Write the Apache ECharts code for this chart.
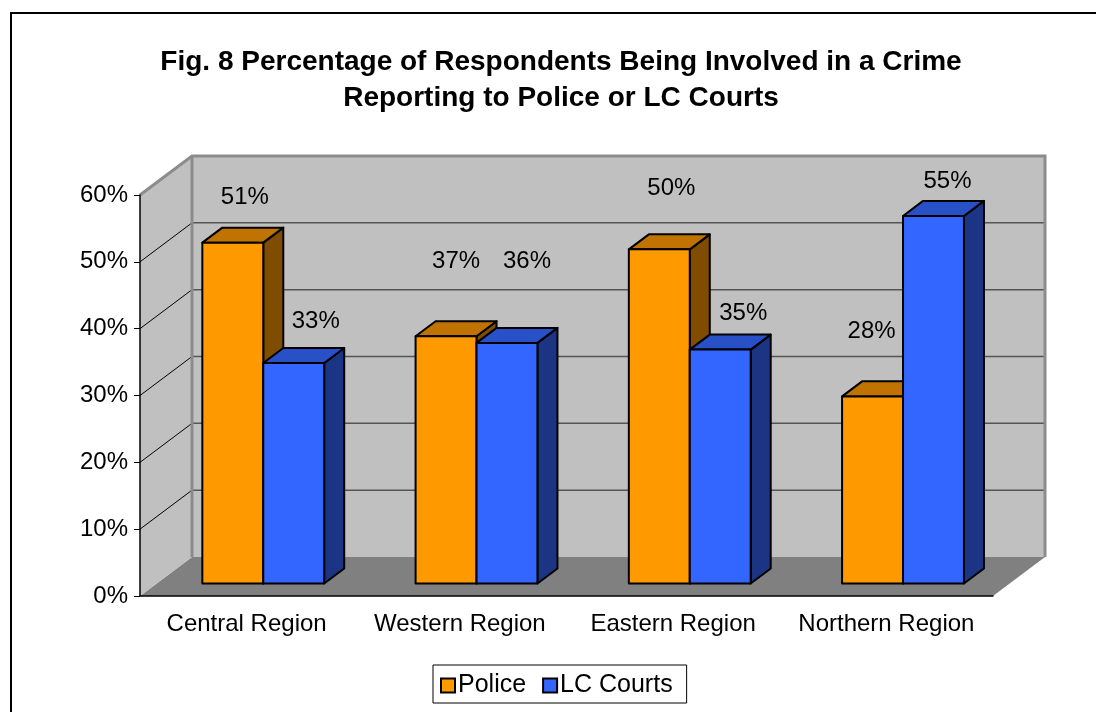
<!DOCTYPE html>
<html>
<head>
<meta charset="utf-8">
<script src="https://cdn.jsdelivr.net/npm/echarts@6/dist/echarts.min.js"></script>
<style>
  html, body { margin: 0; padding: 0; background: #fff; }
  #chart { width: 1096px; height: 712px; }
</style>
</head>
<body>
<div id="chart"></div>
<script>
// ---- data ----
const categories = ['Central Region', 'Western Region', 'Eastern Region', 'Northern Region'];
const seriesNames = ['Police', 'LC Courts'];
const policeValues = [51, 37, 50, 28];
const courtsValues = [33, 36, 35, 55];
const yTicks = [0, 10, 20, 30, 40, 50, 60];

// ---- layout / style ----
const FONT = '"Liberation Sans", Arial, sans-serif';
const DEPTH = [52, -39];        // pixel offset from the front plane to the back wall
const BAR_FRONT = 0.32;         // where the bar front faces sit within the depth
const BAR_DEPTH = 0.385;        // how deep each bar is
const GAP_RATIO = 1.5;          // gap between clusters, in bar widths
// label offsets from the top-front centre of each bar
const policeLabelShift = [[12, -45], [10, -75], [12, -61], [-1, -65]];
const courtsLabelShift = [[22, -42], [20, -82], [23, -36], [14, -35]];

const palette = {
  police: { front: '#FF9900', top: '#C07300', side: '#7F4C00' },
  courts: { front: '#3366FF', top: '#2851C8', side: '#1B3584' }
};

const yMin = yTicks[0], yMax = yTicks[yTicks.length - 1];

function wallsItem(params, api) {
  const band = api.size([1, 0])[0];
  const x0 = api.coord([0, 0])[0] - band / 2;
  const x1 = x0 + band * categories.length;
  const yAt = v => api.coord([0, v])[1];
  const y0 = yAt(yMin), yT = yAt(yMax);
  const dx = DEPTH[0], dy = DEPTH[1];
  const children = [];
  // floor
  children.push({ type: 'polygon', shape: { points: [[x0, y0], [x1, y0], [x1 + dx, y0 + dy], [x0 + dx, y0 + dy]] },
    style: { fill: '#808080' } });
  // back wall
  children.push({ type: 'rect', shape: { x: x0 + dx, y: yT + dy, width: x1 - x0, height: y0 - yT },
    style: { fill: '#C0C0C0' } });
  // side wall
  children.push({ type: 'polygon', shape: { points: [[x0, y0], [x0 + dx, y0 + dy], [x0 + dx, yT + dy], [x0, yT]] },
    style: { fill: '#C0C0C0' } });
  // grid lines
  yTicks.forEach(v => {
    if (v === yMin || v === yMax) return;
    const y = yAt(v);
    children.push({ type: 'line', shape: { x1: x0 + dx, y1: y + dy, x2: x1 + dx, y2: y + dy },
      style: { stroke: '#555555', lineWidth: 1.5 } });
    children.push({ type: 'line', shape: { x1: x0, y1: y, x2: x0 + dx, y2: y + dy },
      style: { stroke: '#000000', lineWidth: 1 } });
  });
  // wall edges
  children.push({ type: 'polyline', shape: { points: [[x0, yT], [x0 + dx, yT + dy], [x1 + dx, yT + dy], [x1 + dx, y0 + dy]] },
    style: { stroke: '#8C8C8C', lineWidth: 3, fill: null } });
  children.push({ type: 'line', shape: { x1: x0 + dx, y1: yT + dy, x2: x0 + dx, y2: y0 + dy },
    style: { stroke: '#8C8C8C', lineWidth: 3 } });
  return { type: 'group', children };
}

function makeBarItem(seriesIdx, colors, shifts) {
  return function (params, api) {
    const cat = api.value(0), val = api.value(1);
    const band = api.size([1, 0])[0];
    const bw = band / (2 + GAP_RATIO);
    const base = api.coord([cat, 0]);
    const top = api.coord([cat, val]);
    const ox = DEPTH[0] * BAR_FRONT, oy = DEPTH[1] * BAR_FRONT;
    const bx = DEPTH[0] * BAR_DEPTH, by = DEPTH[1] * BAR_DEPTH;
    const left = base[0] + ox - (seriesIdx === 0 ? bw : 0);
    const right = left + bw;
    const yb = base[1] + oy, yt = top[1] + oy;
    const edge = { stroke: '#000', lineWidth: 2, lineJoin: 'round' };
    const sh = shifts[params.dataIndex];
    return {
      type: 'group',
      children: [
        { type: 'polygon', shape: { points: [[right, yt], [right + bx, yt + by], [right + bx, yb + by], [right, yb]] },
          style: Object.assign({ fill: colors.side }, edge) },
        { type: 'polygon', shape: { points: [[left, yt], [right, yt], [right + bx, yt + by], [left + bx, yt + by]] },
          style: Object.assign({ fill: colors.top }, edge) },
        { type: 'rect', shape: { x: left, y: yt, width: bw, height: yb - yt },
          style: Object.assign({ fill: colors.front }, edge) },
        { type: 'text', x: left + bw / 2 + sh[0], y: yt + sh[1],
          style: { text: val + '%', fill: '#000', font: '24px ' + FONT, align: 'center', verticalAlign: 'middle' } }
      ]
    };
  };
}

const chart = echarts.init(document.getElementById('chart'), null, { renderer: 'canvas' });
chart.setOption({
  animation: false,
  backgroundColor: '#fff',
  textStyle: { fontFamily: FONT },
  title: {
    text: 'Fig. 8 Percentage of Respondents Being Involved in a Crime\nReporting to Police or LC Courts',
    left: 561, top: 44, textAlign: 'center', padding: 0,
    textStyle: { fontFamily: FONT, fontSize: 28, fontWeight: 'bold', color: '#000', lineHeight: 36 }
  },
  legend: {
    data: seriesNames,
    left: 433, top: 665,
    orient: 'horizontal',
    icon: 'rect',
    itemWidth: 14, itemHeight: 14, itemGap: 16,
    padding: [8, 14, 5, 7],
    backgroundColor: '#fff', borderColor: '#000', borderWidth: 1, borderRadius: 0,
    itemStyle: { borderColor: '#000', borderWidth: 2 },
    textStyle: { fontFamily: FONT, fontSize: 25, color: '#000', padding: [0, 0, 0, -2] }
  },
  grid: { left: 140, right: 103, top: 195, bottom: 116, containLabel: false },
  xAxis: {
    type: 'category', data: categories, z: 5,
    axisLine: { lineStyle: { color: '#000', width: 1.5 } },
    axisTick: { length: 7, lineStyle: { color: '#000', width: 1 } },
    axisLabel: { interval: 0, fontFamily: FONT, fontSize: 24, color: '#000', margin: 16 },
    splitLine: { show: false }
  },
  yAxis: {
    type: 'value', min: yMin, max: yMax, interval: 10, z: 5,
    axisLine: { show: true, lineStyle: { color: '#000', width: 1.5 } },
    axisTick: { show: true, length: 6, lineStyle: { color: '#000', width: 1 } },
    axisLabel: { fontFamily: FONT, fontSize: 24, color: '#000', margin: 12, formatter: '{value}%' },
    splitLine: { show: false }
  },
  graphic: [{
    type: 'rect', z: 100, silent: true,
    shape: { x: 11, y: 13, width: 1100, height: 720 },
    style: { fill: null, stroke: '#000', lineWidth: 2 }
  }],
  series: [
    { type: 'custom', name: '__walls', renderItem: wallsItem, data: [[0, 0]], z: 1, silent: true, clip: false },
    { type: 'custom', name: seriesNames[0], itemStyle: { color: palette.police.front },
      renderItem: makeBarItem(0, palette.police, policeLabelShift),
      data: policeValues.map((v, i) => [i, v]), z: 2, clip: false },
    { type: 'custom', name: seriesNames[1], itemStyle: { color: palette.courts.front },
      renderItem: makeBarItem(1, palette.courts, courtsLabelShift),
      data: courtsValues.map((v, i) => [i, v]), z: 2, clip: false }
  ]
});
</script>
</body>
</html>
